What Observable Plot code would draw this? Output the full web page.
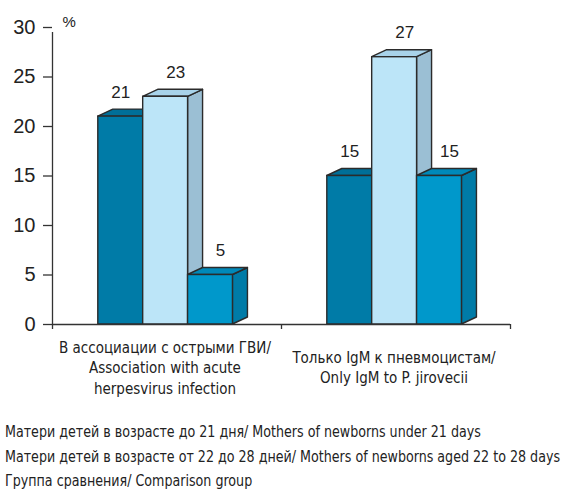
<!DOCTYPE html>
<html>
<head>
<meta charset="utf-8">
<script src="https://cdn.jsdelivr.net/npm/d3@7"></script>
<script src="https://cdn.jsdelivr.net/npm/@observablehq/plot@0.6"></script>
<style>
  body { margin: 0; background: #fff; overflow: hidden; }
  #legendWrap { padding: 20px 0 0 5px; }
  #legend { display: inline-block; font-family: "DejaVu Sans Condensed", "Liberation Sans Narrow", sans-serif; font-size: 16px; color: #222; line-height: 24.5px; white-space: nowrap; transform-origin: 0 0; }
</style>
</head>
<body>
<div id="chart"></div>
<div id="legendWrap"><div id="legend"></div></div>
<script>
// ---- data ----
const groups = [
  "В ассоциации с острыми ГВИ/\nAssociation with acute\nherpesvirus infection",
  "Только IgM к пневмоцистам/\nOnly IgM to P. jirovecii"
];
const seriesNames = [
  "Матери детей в возрасте до 21 дня/ Mothers of newborns under 21 days",
  "Матери детей в возрасте от 22 до 28 дней/ Mothers of newborns aged 22 to 28 days",
  "Группа сравнения/ Comparison group"
];
const under21 = [21, 15];
const aged22to28 = [23, 27];
const comparison = [5, 15];
const yTicks = [0, 5, 10, 15, 20, 25, 30];

// ---- styling ----
const frontColors = ["#007ba7", "#bce5f8", "#0098cb"];
const topColors   = ["#006f98", "#a8d3ea", "#0089b9"];
const sideColors  = ["#006f98", "#9bbfd4", "#007ba7"];
const labelDx = [0, 10, 10];
const stroke = "#2b2b2b";

// ---- layout in x-units (each group spans 1 unit) ----
const barStart = 0.2, barW = 0.196;
const depthX = 15 / 229, depthY = 7 / 9.9;

const seriesValues = [under21, aged22to28, comparison];
const rows = [];
groups.forEach((g, gi) => seriesValues.forEach((vals, si) => {
  const x1 = gi + barStart + si * barW;
  rows.push({g, gi, si, v: vals[gi], x1, x2: x1 + barW});
}));

const sideMarks = [], topMarks = [];
rows.forEach(r => {
  sideMarks.push(Plot.areaY([
    {x: r.x2, y1: 0, y2: r.v},
    {x: r.x2 + depthX, y1: depthY, y2: r.v + depthY}
  ], {x: "x", y1: "y1", y2: "y2", fill: sideColors[r.si], stroke, strokeWidth: 1.4, strokeLinejoin: "round"}));
  topMarks.push(Plot.areaX([
    {y: r.v, x1: r.x1, x2: r.x2},
    {y: r.v + depthY, x1: r.x1 + depthX, x2: r.x2 + depthX}
  ], {y: "y", x1: "x1", x2: "x2", fill: topColors[r.si], stroke, strokeWidth: 1.4, strokeLinejoin: "round"}));
});

const numFont = "'Liberation Sans', Arial, sans-serif";
const txtFont = "'DejaVu Sans Condensed', 'Liberation Sans Narrow', sans-serif";

const chart = Plot.plot({
  width: 564,
  height: 400,
  marginLeft: 52,
  marginRight: 54,
  marginTop: 27,
  marginBottom: 76,
  style: {fontFamily: numFont, color: "#222", background: "#fff"},
  x: {type: "linear", domain: [0, 2], axis: null},
  y: {domain: [0, 30], axis: null},
  marks: [
    ...sideMarks,
    ...topMarks,
    Plot.rect(rows, {x1: "x1", x2: "x2", y1: 0, y2: "v", fill: d => frontColors[d.si], stroke, strokeWidth: 1.4}),
    // value labels
    ...[0, 1, 2].map(si => Plot.text(rows.filter(r => r.si === si), {
      x: d => (d.x1 + d.x2) / 2, y: "v", text: d => String(d.v),
      dx: labelDx[si], dy: -19, lineAnchor: "bottom", fontSize: 17, fill: "#222"
    })),
    // axes lines
    Plot.ruleX([0], {y1: 0, y2: 30, stroke: "#333", strokeWidth: 1.3, insetBottom: -5}),
    Plot.ruleY([0], {x1: 0, x2: 2, stroke: "#333", strokeWidth: 1.3}),
    Plot.axisY({ticks: yTicks, tickSize: 9, tickPadding: 8, fontSize: 20, label: null, stroke: "#333", strokeWidth: 1.3, fill: "#222"}),
    Plot.axisX({ticks: [0, 1, 2], tickSize: 5, tickFormat: () => "", stroke: "#333", strokeWidth: 1.3, label: null}),
    Plot.text(["%"], {x: 0, y: d3.max(yTicks), text: d => d, dx: 10, dy: -5, textAnchor: "start", fontSize: 15, fill: "#222"}),
    // category labels
    Plot.text(groups, {x: (d, i) => i + 0.5, y: 0, text: d => d, dy: 42, dx: -2, lineAnchor: "middle", lineHeight: 1.37, fontSize: 15, fontFamily: txtFont, fill: "#222"})
  ]
});
document.getElementById("chart").append(chart);
const legend = document.getElementById("legend");
legend.innerHTML = seriesNames.map(s => `<div>${s}</div>`).join("");
const w = legend.getBoundingClientRect().width;
const target = 555;
if (w > target) legend.style.transform = `scaleX(${target / w})`;
</script>
</body>
</html>
